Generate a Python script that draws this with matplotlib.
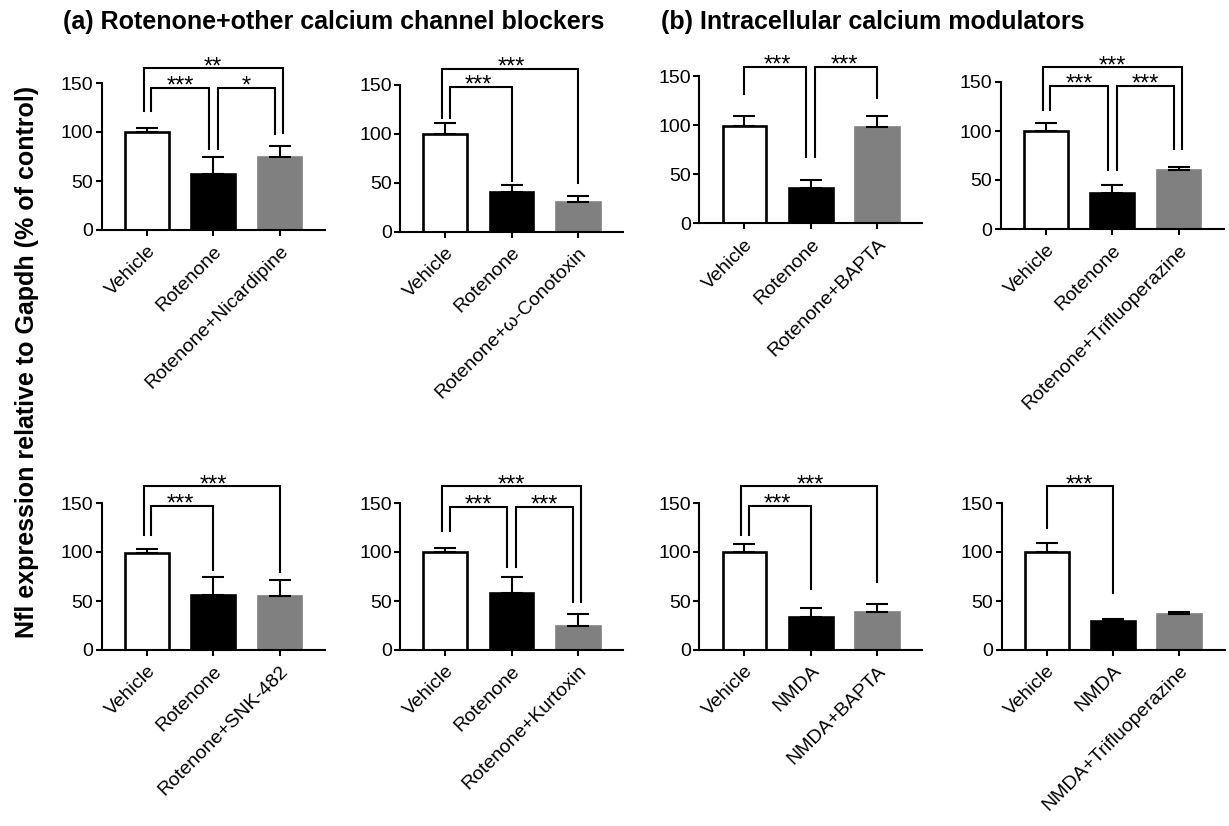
import numpy as np
from matplotlib import pyplot as plt

plt.rcParams['font.family'] = ['Liberation Sans', 'DejaVu Sans']

# --- data ---
groups_nic = ['Vehicle', 'Rotenone', 'Rotenone+Nicardipine']
means_nic = [100, 57, 74]
err_nic = [4, 17, 12]
sig_nic = [(0, 2, 165, 121, 99, '**'), (0, 1, 145, 121, 83, '***'), (1, 2, 145, 83, 98, '*')]

groups_cono = ['Vehicle', 'Rotenone', 'Rotenone+\u03c9-Conotoxin']
means_cono = [100, 40, 30]
err_cono = [11, 8, 6]
sig_cono = [(0, 2, 166, 116, 50, '***'), (0, 1, 148, 116, 52, '***')]

groups_bapta = ['Vehicle', 'Rotenone', 'Rotenone+BAPTA']
means_bapta = [99, 36, 98]
err_bapta = [10, 8, 11]
sig_bapta = [(0, 1, 160, 132, 68, '***'), (1, 2, 160, 68, 128, '***')]

groups_tfp = ['Vehicle', 'Rotenone', 'Rotenone+Trifluoperazine']
means_tfp = [100, 37, 60]
err_tfp = [8, 8, 3]
sig_tfp = [(0, 2, 165, 121, 82, '***'), (0, 1, 146, 121, 60, '***'), (1, 2, 146, 60, 82, '***')]

groups_snk = ['Vehicle', 'Rotenone', 'Rotenone+SNK-482']
means_snk = [99, 56, 55]
err_snk = [4, 18, 16]
sig_snk = [(0, 2, 167, 117, 80, '***'), (0, 1, 147, 117, 82, '***')]

groups_kurt = ['Vehicle', 'Rotenone', 'Rotenone+Kurtoxin']
means_kurt = [100, 58, 25]
err_kurt = [4, 16, 12]
sig_kurt = [(0, 2, 167, 121, 49, '***'), (0, 1, 146, 121, 85, '***'), (1, 2, 146, 85, 49, '***')]

groups_nbapta = ['Vehicle', 'NMDA', 'NMDA+BAPTA']
means_nbapta = [100, 34, 39]
err_nbapta = [8, 9, 8]
sig_nbapta = [(0, 2, 167, 117, 69, '***'), (0, 1, 147, 117, 62, '***')]

groups_ntfp = ['Vehicle', 'NMDA', 'NMDA+Trifluoperazine']
means_ntfp = [100, 30, 37]
err_ntfp = [9, 2, 2]
sig_ntfp = [(0, 1, 167, 125, 58, '***')]

BAR_FACE = ['white', 'black', '#808080']
BAR_EDGE = ['black', 'black', '#808080']
LW = 1.5


def draw_panel(fig, rect, groups, means, errs, sigs):
    ax = fig.add_axes(rect)
    x = np.arange(len(groups))
    ax.bar(x, means, width=0.66, color=BAR_FACE, edgecolor=BAR_EDGE, linewidth=1.9, zorder=2)
    ax.errorbar(x, means, yerr=[np.zeros(len(errs)), errs], fmt='none',
                ecolor='black', elinewidth=LW, capsize=8, capthick=LW, zorder=3)
    ax.set_xlim(-0.68, 2.68)
    ax.set_ylim(0, 150)
    ax.set_yticks([0, 50, 100, 150])
    ax.set_xticks(x)
    ax.set_xticklabels(groups, rotation=45, ha='right', rotation_mode='anchor', fontsize=14)
    ax.tick_params(axis='both', direction='out', length=4, width=LW, labelsize=14, pad=2)
    ax.tick_params(axis='x', pad=5)
    for s in ['top', 'right']:
        ax.spines[s].set_visible(False)
    for s in ['left', 'bottom']:
        ax.spines[s].set_linewidth(LW)

    # how many bracket legs land on each bar
    legs = [0] * len(groups)
    for i, j, *_ in sigs:
        legs[i] += 1
        legs[j] += 1
    for i, j, top, yl, yr, lab in sigs:
        shared_i = legs[i] > 1
        shared_j = legs[j] > 1
        if j - i > 1:
            xl = i - 0.05 if shared_i else i
            xr = j + 0.05 if shared_j else j
        else:
            xl = i + 0.07 if shared_i else i
            xr = j - 0.07 if shared_j else j
        ax.plot([xl, xl, xr, xr], [yl, top, top, yr], color='black', lw=LW,
                clip_on=False, solid_joinstyle='miter')
        ax.annotate(lab, xy=((i + j) / 2, top), xytext=(0, -3.5), textcoords='offset points',
                    ha='center', va='baseline', fontsize=17, annotation_clip=False)
    return ax


fig = plt.figure(figsize=(12.29, 8.26), dpi=100)

W = 1229.0
H = 826.0
aw = 223 / W
ah = 147 / H
draw_panel(fig, [101.7 / W, 1 - 230 / H, aw, ah], groups_nic, means_nic, err_nic, sig_nic)
draw_panel(fig, [400 / W, 1 - 231.7 / H, aw, ah], groups_cono, means_cono, err_cono, sig_cono)
draw_panel(fig, [699.3 / W, 1 - 223.3 / H, aw, ah], groups_bapta, means_bapta, err_bapta, sig_bapta)
draw_panel(fig, [1000.7 / W, 1 - 229 / H, aw, ah], groups_tfp, means_tfp, err_tfp, sig_tfp)
draw_panel(fig, [101.7 / W, 1 - 650 / H, aw, ah], groups_snk, means_snk, err_snk, sig_snk)
draw_panel(fig, [400 / W, 1 - 650 / H, aw, ah], groups_kurt, means_kurt, err_kurt, sig_kurt)
draw_panel(fig, [699.3 / W, 1 - 650 / H, aw, ah], groups_nbapta, means_nbapta, err_nbapta, sig_nbapta)
draw_panel(fig, [1001.5 / W, 1 - 650 / H, aw, ah], groups_ntfp, means_ntfp, err_ntfp, sig_ntfp)

fig.text(63 / W, 0.973, '(a) Rotenone+other calcium channel blockers',
         fontsize=18, fontweight='bold', va='center', ha='left')
fig.text(661 / W, 0.973, '(b) Intracellular calcium modulators',
         fontsize=18, fontweight='bold', va='center', ha='left')
fig.text(27 / W, 0.562, 'Nfl expression relative to Gapdh (% of control)',
         rotation=90, fontsize=18, fontweight='bold', va='center', ha='center')

fig.savefig('out.png', dpi=100)
